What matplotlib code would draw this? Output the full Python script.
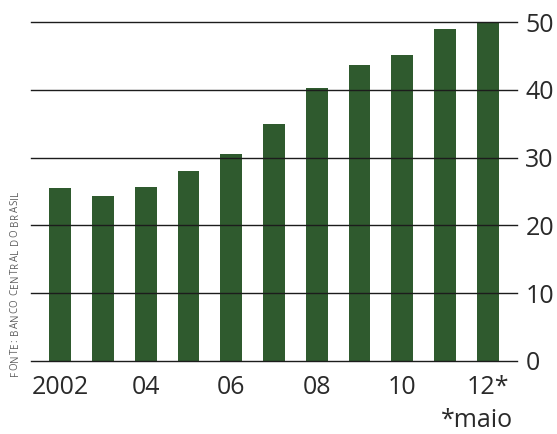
import numpy as np
import matplotlib.pyplot as plt

anos = [2002, 2003, 2004, 2005, 2006, 2007, 2008, 2009, 2010, 2011, 2012]
valores = [25.5, 24.3, 25.6, 28.0, 30.5, 35.0, 40.2, 43.6, 45.1, 48.9, 50.0]
rotulos_x = {2002: '2002', 2004: '04', 2006: '06', 2008: '08', 2010: '10', 2012: '12*'}
yticks = [0, 10, 20, 30, 40, 50]
fonte = 'FONTE: BANCO CENTRAL DO BRASIL'

plt.rcParams['font.family'] = ['Open Sans', 'DejaVu Sans']

fig = plt.figure(figsize=(5.57, 4.34), dpi=100)
ax = fig.add_axes([31/557, 73/434, 486/557, 339/434])

x = np.arange(len(anos))
ax.bar(x, valores, width=0.51, color='#2f5a2e', zorder=2)

for v in yticks:
    ax.axhline(v, color='#1c1c1c', lw=1.0, zorder=3, clip_on=False)

ax.set_xlim(-0.68, len(anos) - 0.32)
ax.set_ylim(0, 50)

ax.yaxis.tick_right()
ax.set_yticks(yticks)
ax.set_yticklabels([str(v) for v in yticks], fontsize=18, color='#2a2a2a')
ax.tick_params(axis='y', length=0, pad=6)

pos = [anos.index(a) for a in rotulos_x]
ax.set_xticks(pos)
ax.set_xticklabels(list(rotulos_x.values()), fontsize=18, color='#2a2a2a')
ax.tick_params(axis='x', length=0, pad=10)

for s in ax.spines.values():
    s.set_visible(False)

fig.text(513/557, 0.032, '*maio', ha='right', va='center',
         fontsize=18, color='#2a2a2a')

# fonte vertical, com espacamento entre letras
r = fig.canvas.get_renderer()
y0 = (434 - 376) / 434
for ch in fonte:
    t = fig.text(0.027, y0, ch, rotation=90, ha='center', va='bottom',
                 fontsize=7, color='#606060')
    w = t.get_window_extent(r).height
    if ch == ' ':
        w = 3.0
    y0 += (w + 0.6) / 434

fig.savefig('out.png', dpi=100, facecolor='white')
